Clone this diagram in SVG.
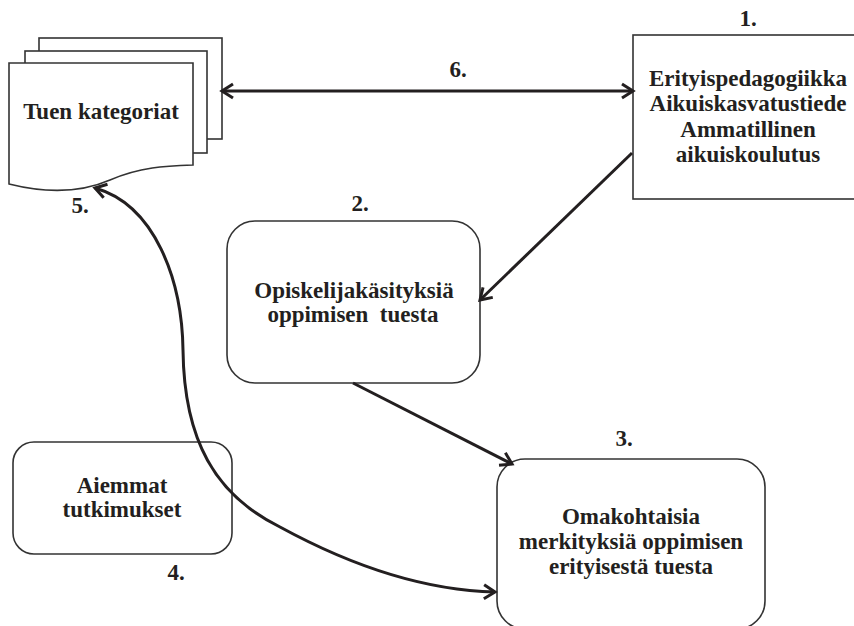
<svg xmlns="http://www.w3.org/2000/svg" width="854" height="626" viewBox="0 0 854 626">
  <style>
    .box { fill: #fff; stroke: #333; stroke-width: 1.6; }
    .txt { font-family: "Liberation Serif", "DejaVu Serif", serif; font-weight: bold; font-size: 23px; fill: #231f20; text-anchor: middle; }
    .arrow { fill: none; stroke: #231f20; stroke-width: 3; }
  </style>
  <defs>
    <marker id="head" markerUnits="userSpaceOnUse" viewBox="0 0 16 18" markerWidth="16" markerHeight="18" refX="13" refY="9" orient="auto-start-reverse">
      <path d="M2,2 L13,9 L2,16" fill="none" stroke="#231f20" stroke-width="3" stroke-linejoin="miter"/>
    </marker>
  </defs>

  <rect width="854" height="626" fill="#fff"/>

  <!-- stack of documents -->
  <g id="tuen-kategoriat">
    <rect class="box" x="39" y="38" width="183" height="101"/>
    <rect class="box" x="25" y="51" width="182" height="102"/>
    <path class="box" d="M9,63 L193,63 L193,165 C165,166 140,167 110,180 C80,193 45,193 9,184 Z"/>
    <text class="txt" x="101" y="119">Tuen kategoriat</text>
    <text class="txt" x="80" y="213">5.</text>
  </g>

  <g id="tieteenalat">
    <rect class="box" x="633" y="35" width="231" height="164"/>
    <text class="txt" x="748" y="26">1.</text>
    <text class="txt" x="748" y="86">Erityispedagogiikka</text>
    <text class="txt" x="748" y="111">Aikuiskasvatustiede</text>
    <text class="txt" x="748" y="137">Ammatillinen</text>
    <text class="txt" x="748" y="162">aikuiskoulutus</text>
  </g>

  <g id="opiskelijakasitykset">
    <rect class="box" x="227" y="221" width="253" height="162" rx="28" ry="28"/>
    <text class="txt" x="360" y="211">2.</text>
    <text class="txt" x="354" y="298">Opiskelijakäsityksiä</text>
    <text class="txt" x="353" y="322" style="white-space:pre">oppimisen  tuesta</text>
  </g>

  <g id="omakohtaiset-merkitykset">
    <rect class="box" x="497" y="459" width="268" height="170" rx="28" ry="28"/>
    <text class="txt" x="624" y="446">3.</text>
    <text class="txt" x="631" y="524">Omakohtaisia</text>
    <text class="txt" x="631" y="549">merkityksiä oppimisen</text>
    <text class="txt" x="631" y="574">erityisestä tuesta</text>
  </g>

  <g id="aiemmat-tutkimukset">
    <rect class="box" x="13" y="442" width="219" height="112" rx="21" ry="21"/>
    <text class="txt" x="122" y="493">Aiemmat</text>
    <text class="txt" x="122" y="517">tutkimukset</text>
    <text class="txt" x="176" y="580">4.</text>
  </g>

  <g id="connectors">
    <line class="arrow" x1="222" y1="91" x2="633" y2="91" marker-start="url(#head)" marker-end="url(#head)"/>
    <text class="txt" x="458" y="77">6.</text>
    <line class="arrow" x1="632" y1="153" x2="480" y2="300" marker-end="url(#head)"/>
    <line class="arrow" x1="353" y1="383" x2="512" y2="464" marker-end="url(#head)"/>
    <path class="arrow" d="M95,188 C155,205 182,280 183,350 C184,440 215,495 280,527 C335,557 410,590 495,592" marker-start="url(#head)" marker-end="url(#head)"/>
  </g>
</svg>
